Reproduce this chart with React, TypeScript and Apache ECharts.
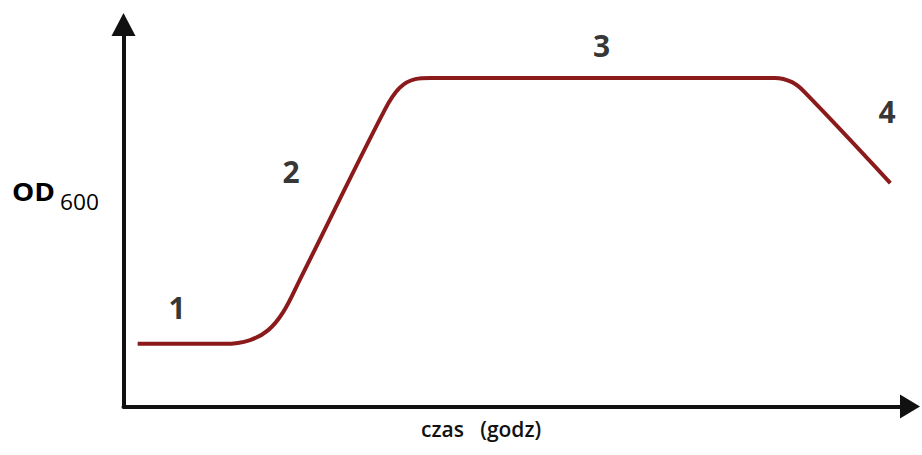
import React, { useEffect, useRef } from "react";
import * as echarts from "echarts";

// growth curve (x: time 0-100, y: OD 0-100, arbitrary units)
const curveX = [1.8, 12.9, 16.1, 18.4, 20.3, 22.4, 33.2, 35.1, 37.1, 39.0, 82.8, 85.0, 86.6, 97.5];
const curveY = [16.4, 16.4, 17.4, 20.0, 24.7, 33.1, 77.6, 83.4, 85.7, 86.0, 86.0, 84.9, 82.3, 58.5];

// phase labels
const phaseNames = ["1", "2", "3", "4"];
const phaseX = [6.8, 21.3, 60.8, 97.1];
const phaseY = [25.8, 61.4, 94.4, 77.1];

const yTitle = "OD";
const ySub = "600";
const xTitle = "czas   (godz)";

export default function App() {
  const ref = useRef<HTMLDivElement>(null);
  useEffect(() => {
    if (!ref.current) return;
    const chart = echarts.init(ref.current, null, { renderer: "svg" });
    const axisCommon = {
      type: "value" as const,
      min: 0,
      max: 100,
      axisTick: { show: false },
      axisLabel: { show: false },
      splitLine: { show: false },
    };
    chart.setOption({
      animation: false,
      backgroundColor: "#fff",
      grid: { left: 123.5, right: 12, top: 24.5, bottom: 48.5 },
      xAxis: {
        ...axisCommon,
        axisLine: {
          show: true,
          symbol: ["none", "triangle"],
          symbolSize: [24, 20],
          lineStyle: { color: "#111", width: 4 },
        },
      },
      yAxis: {
        ...axisCommon,
        axisLine: {
          show: true,
          symbol: ["none", "triangle"],
          symbolSize: [24, 23],
          lineStyle: { color: "#111", width: 4 },
        },
      },
      series: [
        {
          type: "line",
          data: curveX.map((x, i) => [x, curveY[i]]),
          smooth: 0.35,
          showSymbol: false,
          symbol: "none",
          lineStyle: { color: "#8b1a1a", width: 4 },
        },
        {
          type: "scatter",
          symbol: "circle",
          symbolSize: 1,
          itemStyle: { color: "rgba(0,0,0,0)" },
          data: phaseNames.map((n, i) => ({ name: n, value: [phaseX[i], phaseY[i]] })),
          label: {
            show: true,
            position: "inside",
            formatter: "{b}",
            color: "#000",
            fontSize: 30,
            fontWeight: "bold",
            fontFamily: "Open Sans, sans-serif",
          },
        },
      ],
      graphic: [
        {
          type: "text",
          x: 12,
          y: 179,
          scaleX: 1.12,
          style: {
            text: yTitle,
            font: 'bold 25px "Open Sans", sans-serif',
            fill: "#000",
          },
        },
        {
          type: "text",
          x: 60,
          y: 191,
          scaleX: 1.08,
          style: {
            text: ySub,
            font: '21px "Open Sans", sans-serif',
            fill: "#000",
          },
        },
        {
          type: "text",
          x: 421,
          y: 418,
          style: {
            text: xTitle,
            font: '600 21px "Open Sans", sans-serif',
            fill: "#111",
          },
        },
      ],
    });
    return () => chart.dispose();
  }, []);
  return (
    <div
      ref={ref}
      style={{ position: "absolute", left: 0, top: 0, width: 922, height: 455, background: "#fff" }}
    />
  );
}
